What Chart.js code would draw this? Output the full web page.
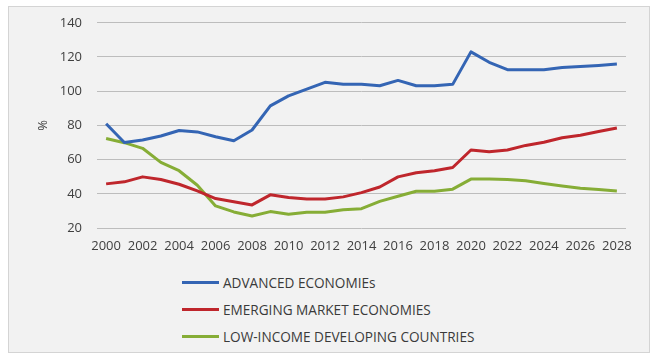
<!DOCTYPE html>
<html>
<head>
<meta charset="utf-8">
<script src="https://cdn.jsdelivr.net/npm/chart.js@4"></script>
<style>
  body { margin: 0; background: #fff; font-family: "Open Sans", sans-serif; }
  #box {
    position: absolute; left: 8px; top: 6px; width: 640px; height: 345px;
    border: 1px solid #d4d4d4; background: #f2f2f2;
  }
  #wrap { position: absolute; left: 0; top: 0; width: 640px; height: 256px; }
  #legend { position: absolute; left: 173px; top: 262px; }
  .lg-row { height: 27px; display: flex; align-items: center; color: #3a3a3a; font-size: 13.6px; }
  .lg-line { width: 37px; height: 3px; margin-right: 4px; }
</style>
</head>
<body>
<div id="box">
  <div id="wrap"><canvas id="chart"></canvas></div>
  <div id="legend"></div>
</div>
<script>
// Data
const years = [];
for (let y = 2000; y <= 2028; y++) years.push(String(y));

const advanced = [81, 70, 71.5, 73.8, 77, 76.2, 73.4, 71, 77.3, 91.4, 97.3, 101.2, 105.2, 104, 104, 103.2,
  106.3, 103.2, 103.2, 104, 123, 116.9, 112.6, 112.6, 112.6, 113.8, 114.5, 115.1, 115.9];
const emerging = [45.8, 47, 49.9, 48.4, 45.6, 41.7, 37.2, 35.4, 33.5, 39.4, 37.8, 37, 37, 38.2, 40.7, 44,
  49.9, 52.3, 53.5, 55.4, 65.6, 64.6, 65.6, 68.3, 70.1, 72.8, 74.2, 76.4, 78.5];
const lowIncome = [72.3, 69.9, 66.6, 58.4, 53.5, 45, 32.9, 29.4, 27, 29.6, 28, 29.2, 29.2, 30.7, 31.3, 35.6,
  38.6, 41.5, 41.5, 42.7, 48.6, 48.6, 48.4, 47.6, 46, 44.6, 43.3, 42.5, 41.7];

const seriesNames = ['ADVANCED ECONOMIEs', 'EMERGING MARKET ECONOMIES', 'LOW-INCOME DEVELOPING COUNTRIES'];
const seriesColors = ['#3465b4', '#bf262c', '#86ad36'];
const seriesData = [advanced, emerging, lowIncome];

const textColor = '#404040';
const font = { family: 'Open Sans', size: 13 };

const ctx = document.getElementById('chart');
new Chart(ctx, {
  type: 'line',
  data: {
    labels: years,
    datasets: seriesData.map((d, i) => ({
      label: seriesNames[i],
      data: d,
      borderColor: seriesColors[i],
      backgroundColor: seriesColors[i],
      borderWidth: 3,
      pointRadius: 0,
      tension: 0,
      borderJoinStyle: 'round',
    }))
  },
  options: {
    responsive: true,
    maintainAspectRatio: false,
    animation: false,
    layout: { padding: { left: 20, right: 23, top: 9, bottom: 0 } },
    plugins: { legend: { display: false }, tooltip: { enabled: false } },
    scales: {
      x: {
        offset: true,
        grid: { display: false, drawTicks: false },
        border: { display: false },
        ticks: {
          color: textColor, font, autoSkip: false, maxRotation: 0, padding: 10,
          callback: (v, i) => i % 2 === 0 ? years[i] : ''
        },
        afterFit: s => { s.height = 35; }
      },
      y: {
        min: 20, max: 140,
        // tick marks kept invisible, only used as spacing before the labels
        grid: { color: '#bdbdbd', drawTicks: true, tickLength: 7, tickColor: 'rgba(0,0,0,0)' },
        border: { display: false },
        ticks: { stepSize: 20, color: textColor, font, padding: 8 },
        title: { display: true, text: '%', color: textColor, font, padding: { top: 6, bottom: 0 } },
        afterFit: s => { s.width = 68; }
      }
    }
  }
});

// HTML legend, one row per series
const legend = document.getElementById('legend');
seriesNames.forEach((name, i) => {
  const row = document.createElement('div');
  row.className = 'lg-row';
  row.innerHTML = `<div class="lg-line" style="background:${seriesColors[i]}"></div><span>${name}</span>`;
  legend.appendChild(row);
});
</script>
</body>
</html>
